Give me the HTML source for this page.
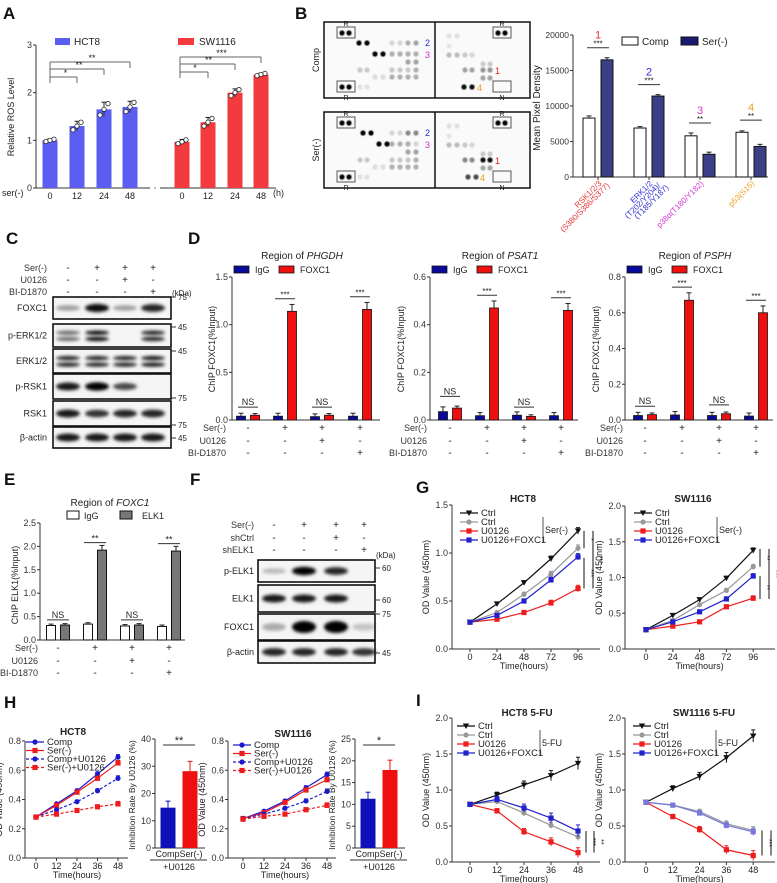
<!DOCTYPE html>
<html><head><meta charset="utf-8">
<style>
html,body{margin:0;padding:0;background:#fff;}
svg{display:block;font-family:"Liberation Sans",Arial,sans-serif;}
</style></head>
<body>
<svg id="fig" width="777" height="883" viewBox="0 0 777 883" xmlns="http://www.w3.org/2000/svg">
<defs><filter id="blur" x="-30%" y="-60%" width="160%" height="220%"><feGaussianBlur stdDeviation="1.6"/></filter>
<filter id="blur2"><feGaussianBlur stdDeviation="0.6"/></filter></defs>
</svg>
<script>
// ---------------- DATA ----------------
const aTimes = ['0','12','24','48'];
const aHCT8 = [1.0, 1.3, 1.65, 1.7];
const aHCT8Err = [0.03, 0.1, 0.15, 0.12];
const aSW = [0.97, 1.38, 2.0, 2.38];
const aSWErr = [0.05, 0.1, 0.08, 0.03];
const aTicks = [0,1,2,3];
const bCats = ['RSK','ERK','p38','p53'];
const bComp = [8300, 6900, 5800, 6300];
const bCompErr = [300, 200, 400, 200];
const bSer = [16500, 11400, 3200, 4300];
const bSerErr = [300, 200, 300, 300];
const bTicks = [0,5000,10000,15000,20000];
const dPHGDH_IgG = [0.04, 0.04, 0.035, 0.04];
const dPHGDH_FOXC1 = [0.05, 1.14, 0.05, 1.16];
const dPSAT1_IgG = [0.035, 0.018, 0.02, 0.018];
const dPSAT1_FOXC1 = [0.05, 0.47, 0.015, 0.46];
const dPSPH_IgG = [0.025, 0.028, 0.025, 0.022];
const dPSPH_FOXC1 = [0.03, 0.67, 0.035, 0.6];
const dTicks1 = [0,0.5,1.0,1.5];
const dTicks2 = [0,0.2,0.4,0.6];
const dTicks3 = [0,0.2,0.4,0.6,0.8];
const eIgG = [0.31, 0.34, 0.3, 0.29];
const eELK1 = [0.32, 1.92, 0.32, 1.9];
const eTicks = [0,0.5,1.0,1.5,2.0,2.5];
const gTimes = [0,24,48,72,96];
const gHCT8_Ctrl = [0.28,0.47,0.69,0.94,1.23];
const gHCT8_SerCtrl = [0.28,0.38,0.57,0.78,1.05];
const gHCT8_U0126 = [0.28,0.31,0.38,0.48,0.63];
const gHCT8_UFOX = [0.28,0.35,0.50,0.72,0.96];
const gSW_Ctrl = [0.27,0.47,0.69,0.99,1.38];
const gSW_SerCtrl = [0.27,0.40,0.62,0.82,1.15];
const gSW_U0126 = [0.27,0.32,0.38,0.59,0.71];
const gSW_UFOX = [0.27,0.38,0.52,0.70,1.02];
const hTimes = [0,12,24,36,48];
const hHCT8_Comp = [0.28,0.37,0.46,0.575,0.69];
const hHCT8_Ser = [0.28,0.36,0.45,0.545,0.65];
const hHCT8_CompU = [0.28,0.33,0.385,0.46,0.545];
const hHCT8_SerU = [0.28,0.30,0.325,0.35,0.37];
const hSW_Comp = [0.27,0.32,0.39,0.48,0.57];
const hSW_Ser = [0.27,0.31,0.38,0.465,0.535];
const hSW_CompU = [0.27,0.30,0.34,0.39,0.455];
const hSW_SerU = [0.265,0.285,0.30,0.33,0.36];
const hInhHCT8 = [14.8, 28.2];
const hInhSW = [11.3, 17.9];
const iTimes = [0,12,24,36,48];
const iHCT8_Ctrl = [0.80,0.93,1.07,1.20,1.37];
const iHCT8_5FU = [0.80,0.84,0.68,0.51,0.35];
const iHCT8_U0126 = [0.80,0.71,0.42,0.28,0.13];
const iHCT8_UFOX = [0.80,0.87,0.75,0.61,0.43];
const iSW_Ctrl = [0.83,1.02,1.19,1.45,1.75];
const iSW_5FU = [0.83,0.79,0.70,0.53,0.44];
const iSW_U0126 = [0.83,0.63,0.45,0.17,0.09];
const iSW_UFOX = [0.83,0.79,0.68,0.51,0.42];

// ---------------- HELPERS ----------------
const svg = document.getElementById('fig');
const NS = 'http://www.w3.org/2000/svg';
function mk(tag, attrs, name, parent){
  const el = document.createElementNS(NS, tag);
  for (const k in attrs) el.setAttribute(k, attrs[k]);
  
  
  (parent||svg).appendChild(el);
  return el;
}
function txt(x,y,s,name,o){
  o=o||{};
  const a={x:x,y:y,'font-size':o.size||9,'text-anchor':o.anchor||'start',fill:o.fill||'#222'};
  if(o.weight) a['font-weight']=o.weight;
  if(o.style) a['font-style']=o.style;
  if(o.rot!==undefined) a.transform='rotate('+o.rot+' '+x+' '+y+')';
  const t=mk('text',a,name,o.parent);
  t.textContent=s;
  return t;
}
function ln(x1,y1,x2,y2,name,o){
  o=o||{};
  const a={x1:x1,y1:y1,x2:x2,y2:y2,stroke:o.stroke||'#333','stroke-width':o.w||1};
  if(o.dash) a['stroke-dasharray']=o.dash;
  return mk('line',a,name,o.parent);
}
function rc(x,y,w,h,name,o){
  o=o||{};
  return mk('rect',{x:x,y:y,width:w,height:h,fill:o.fill||'none',stroke:o.stroke||'none','stroke-width':o.w||1},name,o.parent);
}
function lin(d0,d1,r0,r1){return v=>r0+(v-d0)*(r1-r0)/(d1-d0);}
function panelLabel(x,y,s){txt(x,y,s,'panel-label-'+s.toLowerCase(),{size:17,weight:'bold',fill:'#111'});}
function yAxis(x,y,ticks,fmt,name,fs){
  ln(x,y(ticks[ticks.length-1]),x,y(ticks[0]),name+'-line');
  ticks.forEach(t=>{ln(x-3,y(t),x,y(t),name+'-tick');txt(x-4,y(t)+3,fmt(t),name+'-tick-label',{anchor:'end',size:fs||9,fill:'#333'});});
}
function errBar(x,y1,y2,name,col){
  ln(x,y1,x,y2,name,{stroke:col||'#222'});
  ln(x-2.5,y2,x+2.5,y2,name+'-cap',{stroke:col||'#222'});
}
function marker(type,x,y,col,name){
  if(type==='tri') mk('path',{d:`M${x-3.2},${y-2.5}L${x+3.2},${y-2.5}L${x},${y+3}Z`,fill:col},name);
  else if(type==='circ') mk('circle',{cx:x,cy:y,r:2.6,fill:col},name);
  else mk('rect',{x:x-2.6,y:y-2.6,width:5.2,height:5.2,fill:col},name);
}
function series(xs,vals,xS,yS,col,mtype,name,dash,err){
  const pts=xs.map((t,i)=>xS(t)+','+yS(vals[i])).join(' ');
  const pl=mk('polyline',{points:pts,fill:'none',stroke:col,'stroke-width':1.2},name+'-line');
  if(dash) pl.setAttribute('stroke-dasharray',dash);
  xs.forEach((t,i)=>{
    const e=(err||0.02)*(0.5+i*0.3);
    if(i>0){ln(xS(t),yS(vals[i]-e),xS(t),yS(vals[i]+e),name+'-err',{stroke:col});ln(xS(t)-2,yS(vals[i]+e),xS(t)+2,yS(vals[i]+e),name+'-err-cap',{stroke:col});}
    marker(mtype,xS(t),yS(vals[i]),col,name+'-point');
  });
}
function signRows(labels,rows,xs,ys,rightX,name){
  labels.forEach((l,r)=>{
    txt(rightX,ys[r]+3,l,name+'-row-label',{anchor:'end',size:9,fill:'#333'});
    rows[r].forEach((s,i)=>txt(xs[i],ys[r]+3,s,name+'-sign',{anchor:'middle',size:10,fill:'#222'}));
  });
}
function blot(x,y,w,h,lanes,ints,name,doublet,opts){
  opts=opts||{};
  rc(x,y,w,h,name+'-box',{fill:'#f5f5f5',stroke:'#111',w:1.6});
  lanes.forEach((lx,i)=>{
    const it=ints[i]; if(it<=0) return;
    const bw=opts.bw||24;
    if(doublet){
      mk('ellipse',{cx:lx,cy:y+h*0.38,rx:bw/2,ry:2.2,fill:'#000','fill-opacity':it,filter:'url(#blur)'},name+'-band');
      mk('ellipse',{cx:lx,cy:y+h*0.65,rx:bw/2,ry:2.2,fill:'#000','fill-opacity':it,filter:'url(#blur)'},name+'-band');
    } else {
      mk('ellipse',{cx:lx,cy:y+h*(opts.cy||0.55),rx:bw/2,ry:(opts.ry||3)*(0.6+it*0.6),fill:'#000','fill-opacity':Math.min(1,it),filter:'url(#blur)'},name+'-band');
    }
  });
}

// ---------------- PANEL A ----------------
panelLabel(3,19,'A');
(function(){
  const y=lin(0,3,188,45);
  yAxis(36,y,aTicks,t=>String(t),'a-y-axis');
  txt(14,117,'Relative ROS Level','a-y-axis-title',{rot:-90,anchor:'middle',size:9});
  ln(36,188,150,188,'a-x-axis');ln(160,188,276,188,'a-x-axis');
  txt(155,193,"'",'a-axis-break',{anchor:'middle',size:8});
  const hx=[50,77,104,130], sx=[182,208,235,261];
  txt(2,196,'ser(-)','a-x-row-label',{size:9});
  txt(273,196,'(h)','a-x-unit',{size:9});
  [[hx,aHCT8,aHCT8Err,'#5b5ef0','hct8'],[sx,aSW,aSWErr,'#f23a3f','sw1116']].forEach(([xs,vals,errs,col,nm])=>{
    xs.forEach((cx,i)=>{
      rc(cx-7.5,y(vals[i]),15,188-y(vals[i]),'a-bar-'+nm+'-'+aTimes[i],{fill:col});
      errBar(cx,y(vals[i]),y(vals[i]+errs[i]),'a-error-bar');
      ln(cx,y(vals[i]),cx,y(vals[i]-errs[i]),'a-error-bar');
      [-5,0,5].forEach((dx,k)=>mk('circle',{cx:cx+dx*0.8,cy:y(vals[i]+(k-1)*errs[i]*0.8),r:2.2,fill:'#fff',stroke:'#222','stroke-width':0.8},'a-data-point'));
      txt(cx,199,aTimes[i],'a-x-tick-label',{anchor:'middle',size:9});
    });
  });
  rc(55,38,15,7,'a-legend-hct8-swatch',{fill:'#5b5ef0'});txt(74,45,'HCT8','a-legend-hct8',{size:10});
  rc(178,38,16,7,'a-legend-sw1116-swatch',{fill:'#f23a3f'});txt(199,45,'SW1116','a-legend-sw1116',{size:10});
  [[62,hx[3],'**'],[69,hx[2],'**'],[77,hx[1],'*']].forEach(([yy,x2,s])=>{ln(hx[0],yy,x2,yy,'a-sig-line',{stroke:'#666'});ln(x2,yy,x2,yy+6,'a-sig-line',{stroke:'#666'});txt((hx[0]+x2)/2+2,yy-1,s,'a-sig-stars',{anchor:'middle',size:9});});
  ln(hx[0],62,hx[0],83,'a-sig-line',{stroke:'#666'});
  [[57,sx[3],'***'],[64,sx[2],'**'],[72,sx[1],'*']].forEach(([yy,x2,s])=>{ln(sx[0]-2,yy,x2,yy,'a-sig-line',{stroke:'#666'});ln(x2,yy,x2,yy+6,'a-sig-line',{stroke:'#666'});txt((sx[0]+x2)/2,yy-1,s,'a-sig-stars',{anchor:'middle',size:9});});
  ln(sx[0]-2,57,sx[0]-2,78,'a-sig-line',{stroke:'#666'});
})();

// ---------------- PANEL B ----------------
panelLabel(295,19,'B');
(function(){
  [[22,'Comp'],[112,'Ser(-)']].forEach(([top,lab],p)=>{
    rc(324,top,206,76,'b-array-box-'+lab,{fill:'#fafafa',stroke:'#111',w:1.5});
    ln(435,top,435,top+76,'b-array-divider',{stroke:'#111',w:1.5});
    txt(319,top+38,lab,'b-array-label',{rot:-90,anchor:'middle',size:9});
    rc(337,top+5,18,11,'b-ref-box',{stroke:'#555'});rc(337,top+59,18,11,'b-ref-box',{stroke:'#555'});
    txt(346,top+4,'R','b-ref-label',{anchor:'middle',size:7});txt(346,top+78,'R','b-ref-label',{anchor:'middle',size:7});
    rc(493,top+5,18,11,'b-ref-box',{stroke:'#555'});txt(502,top+4,'R','b-ref-label',{anchor:'middle',size:7});
    rc(493,top+59,18,11,'b-neg-box',{stroke:'#555'});txt(502,top+78,'N','b-neg-label',{anchor:'middle',size:7});
    const dots=[[342,11,1],[349,11,1],[498,11,1],[505,11,1],[342,65,1],[349,65,1],
      [359+p*4,21,1],[367+p*4,21,1],[375+p*4,32,1],[383+p*4,32,1],
      [392,21,0.15],[400,21,0.15],[408,21,0.3-p*0.1+p*0.25],[416,21,0.35+p*0.1],
      [392,32,0.3],[400,32,0.3],[408,32,0.3],[416,32,0.3-p*0.15],
      [408,40,0.35],[416,40,0.35],[360,48,0.2],[367,48,0.2],[392,48,0.2],[400,48,0.2],[408,48,0.2],[416,48,0.3],
      [375,55,0.12],[383,55,0.12],[392,55,0.3],[400,55,0.3],[408,55,0.3],[416,55,0.3],[360,65,0.1],[367,65,0.1],
      [449,14,0.1],[457,14,0.1],[449,24,0.08],[449,33,0.25],[457,33,0.25],[465,33,0.2],[472,33,0.15],
      [483,42,0.2],[490,42,0.2],[465,48,0.35+p*0.1],[472,48,0.35+p*0.1],[483,48,0.4+p*0.55],[490,48,0.4+p*0.55],
      [483,56,0.35],[490,56,0.35],[464+p*4,65,0.95-p*0.25],[472+p*4,65,0.95-p*0.25]];
    dots.forEach(([dx,dy,it])=>mk('circle',{cx:dx,cy:top+dy,r:2.6,fill:'#000','fill-opacity':it,filter:'url(#blur2)'},'b-array-spot'));
    txt(425,top+24,'2','b-spot-number',{size:9,fill:'#2a2ad8'});
    txt(425,top+36,'3','b-spot-number',{size:9,fill:'#d02ad0'});
    txt(495,top+52,'1','b-spot-number',{size:9,fill:'#e02020'});
    txt(477+p*3,top+69,'4','b-spot-number',{size:9,fill:'#e8a010'});
  });
  const y=lin(0,20000,177,35);
  yAxis(573,y,bTicks,t=>String(t),'b-y-axis',8.5);
  txt(540,108,'Mean Pixel Density','b-y-axis-title',{rot:-90,anchor:'middle',size:10});
  ln(573,177,768,177,'b-x-axis');
  const cc=[598,649,700,751], cols=['#e53030','#2b2bd6','#d535d5','#f0a020'];
  const nums=['1','2','3','4'];
  bCats.forEach((c,i)=>{
    const x1=cc[i]-9,x2=cc[i]+9;
    rc(x1-6,y(bComp[i]),12,177-y(bComp[i]),'b-bar-comp-'+c,{fill:'#fff',stroke:'#111',w:1});
    errBar(x1,y(bComp[i]),y(bComp[i]+bCompErr[i]),'b-error-bar');
    rc(x2-6,y(bSer[i]),12,177-y(bSer[i]),'b-bar-ser-'+c,{fill:'#3c3f86',stroke:'#111',w:1});
    errBar(x2,y(bSer[i]),y(bSer[i]+bSerErr[i]),'b-error-bar');
    ln(cc[i],177,cc[i],180,'b-x-tick');
    const top=y(Math.max(bComp[i],bSer[i])+Math.max(bCompErr[i],bSerErr[i]))-10;
    ln(x1-2,top,x2+2,top,'b-sig-line');
    txt(cc[i],top-1,i<2?'***':'**','b-sig-stars',{anchor:'middle',size:8});
    txt(cc[i],top-9,nums[i],'b-spot-number-label',{anchor:'middle',size:11,fill:cols[i]});
  });
  const labs=[['RSK1/2/3','(S380/S386/S377)'],['ERK1/2','(T202/Y204)/','(T185/Y187)'],['p38α(T180/Y182)'],['p53(S15)']];
  labs.forEach((L,i)=>L.forEach((s,k)=>txt(cc[i]+4+k*8,184+k*2,s,'b-x-category-label',{anchor:'end',size:8,fill:cols[i],rot:-45})));
  rc(622,37,16,8,'b-legend-comp-swatch',{fill:'#fff',stroke:'#111'});txt(642,45,'Comp','b-legend-comp',{size:10});
  rc(681,37,17,8,'b-legend-ser-swatch',{fill:'#1a1a70',stroke:'#111'});txt(702,45,'Ser(-)','b-legend-ser',{size:10});
})();

// ---------------- PANEL C ----------------
panelLabel(6,244,'C');
(function(){
  const lanes=[68,97,125,153];
  signRows(['Ser(-)','U0126','BI-D1870'],[['-','+','+','+'],['-','-','+','-'],['-','-','-','+']],lanes,[268,280,292],47,'c');
  txt(172,296,'(kDa)','c-kda-label',{size:8});
  const rows=[['FOXC1',297,22,[0.35,0.95,0.35,0.85],false,['75',0]],
              ['p-ERK1/2',324,23,[0.55,0.95,0,0.85],true,['45',3]],
              ['ERK1/2',349,24,[0.85,0.85,0.85,0.9],true,['45',2]],
              ['p-RSK1',374,25,[0.9,1,0.7,0],false,['75',24]],
              ['RSK1',401,25,[0.9,0.8,0.85,0.85],false,['75',24]],
              ['β-actin',427,21,[0.9,0.9,0.9,0.9],false,['45',11]]];
  rows.forEach(([lab,y,h,ints,dbl,mw])=>{
    blot(53,y,118,h,lanes,ints,'c-blot-'+lab.toLowerCase(),dbl,{cy:0.5,ry:3.5});
    txt(47,y+h/2+3,lab,'c-blot-label',{anchor:'end',size:9});
    ln(171,y+mw[1],176,y+mw[1],'c-mw-tick');txt(178,y+mw[1]+3,mw[0],'c-mw-label',{size:8});
  });
})();

// ---------------- PANEL D ----------------
panelLabel(188,244,'D');
function chipChart(ax,gc,ymax,ticks,igg,fox,title,gene,name,colA,colB,legA,legB,stars,ns){
  const y=lin(0,ymax,420,277);
  yAxis(ax,y,ticks,t=>t.toFixed(1),name+'-y-axis');
  ln(ax,420,ax+148,420,name+'-x-axis');
  const tg=txt(ax+70,259,title+' ',name+'-title',{anchor:'middle',size:10});
  const ts=document.createElementNS(NS,'tspan');ts.setAttribute('font-style','italic');ts.textContent=gene;tg.appendChild(ts);
  rc(ax+2,266,15,7,name+'-legend-swatch-a',{fill:colA,stroke:'#111',w:0.8});txt(ax+23,273,legA,name+'-legend-a',{size:9});
  rc(ax+47,266,15,7,name+'-legend-swatch-b',{fill:colB,stroke:'#111',w:0.8});txt(ax+68,273,legB,name+'-legend-b',{size:9});
  gc.forEach((c,i)=>{
    const xa=c-7,xb=c+7;
    rc(xa-4.5,y(igg[i]),9,420-y(igg[i]),name+'-bar-a',{fill:colA,stroke:'#111',w:0.8});
    errBar(xa,y(igg[i]),y(igg[i]*1.4+ymax*0.01),name+'-error-bar');
    rc(xb-4.5,y(fox[i]),9,420-y(fox[i]),name+'-bar-b',{fill:colB,stroke:'#111',w:0.8});
    errBar(xb,y(fox[i]),y(fox[i]*1.05+ymax*0.01),name+'-error-bar');
    if(ns[i]){const sy=y(Math.max(igg[i],fox[i])*1.5+ymax*0.04);ln(xa-3,sy,xb+3,sy,name+'-sig-line');txt(c,sy-2,'NS',name+'-ns-label',{anchor:'middle',size:9});}
    if(stars[i]){const sy=y(fox[i]*1.05+ymax*0.05);ln(xa-3,sy,xb+3,sy,name+'-sig-line');txt(c,sy-1,stars[i],name+'-sig-stars',{anchor:'middle',size:8});}
  });
  return y;
}
(function(){
  const g1=[248,285,322,360], g2=[450,487,524,561], g3=[645,682,719,756];
  const tA='#0a0a9a', tB='#ee0f0f';
  chipChart(232,g1,1.5,dTicks1,dPHGDH_IgG,dPHGDH_FOXC1,'Region of','PHGDH','d-phgdh',tA,tB,'IgG','FOXC1',['','***','','***'],[1,0,1,0]);
  txt(215,349,'ChIP FOXC1(%Input)','d-phgdh-y-title',{rot:-90,anchor:'middle',size:9});
  chipChart(430,g2,0.6,dTicks2,dPSAT1_IgG,dPSAT1_FOXC1,'Region of','PSAT1','d-psat1',tA,tB,'IgG','FOXC1',['','***','','***'],[1,0,1,0]);
  txt(404,349,'ChIP FOXC1(%Input)','d-psat1-y-title',{rot:-90,anchor:'middle',size:9});
  chipChart(625,g3,0.8,dTicks3,dPSPH_IgG,dPSPH_FOXC1,'Region of','PSPH','d-psph',tA,tB,'IgG','FOXC1',['','***','','***'],[1,0,1,0]);
  txt(599,349,'ChIP FOXC1(%Input)','d-psph-y-title',{rot:-90,anchor:'middle',size:9});
  const rows=[['-','+','+','+'],['-','-','+','-'],['-','-','-','+']];
  signRows(['Ser(-)','U0126','BI-D1870'],rows,g1,[428,441,453],226,'d-phgdh');
  signRows(['Ser(-)','U0126','BI-D1870'],rows,g2,[428,441,453],427,'d-psat1');
  signRows(['Ser(-)','U0126','BI-D1870'],rows,g3,[428,441,453],623,'d-psph');
})();

// ---------------- PANEL E ----------------
panelLabel(4,485,'E');
(function(){
  const y=lin(0,2.5,640,523);
  yAxis(40,y,eTicks,t=>t.toFixed(1),'e-y-axis');
  ln(40,640,185,640,'e-x-axis');
  txt(18,585,'ChIP ELK1(%Input)','e-y-axis-title',{rot:-90,anchor:'middle',size:9});
  const tg=txt(110,506,'Region of ','e-title',{anchor:'middle',size:10});
  const ts=document.createElementNS(NS,'tspan');ts.setAttribute('font-style','italic');ts.textContent='FOXC1';tg.appendChild(ts);
  rc(67,511,12,8,'e-legend-igg-swatch',{fill:'#fff',stroke:'#111'});txt(84,519,'IgG','e-legend-igg',{size:9});
  rc(120,511,12,8,'e-legend-elk1-swatch',{fill:'#777',stroke:'#111'});txt(142,519,'ELK1','e-legend-elk1',{size:9});
  const gc=[58,95,132,169];
  gc.forEach((c,i)=>{
    const xa=c-7,xb=c+7;
    rc(xa-4.5,y(eIgG[i]),9,640-y(eIgG[i]),'e-bar-igg',{fill:'#fff',stroke:'#111'});
    errBar(xa,y(eIgG[i]),y(eIgG[i]+0.03),'e-error-bar');
    rc(xb-4.5,y(eELK1[i]),9,640-y(eELK1[i]),'e-bar-elk1',{fill:'#777',stroke:'#111'});
    errBar(xb,y(eELK1[i]),y(eELK1[i]+(eELK1[i]>1?0.1:0.03)),'e-error-bar');
    if(eELK1[i]<1){const sy=y(0.43);ln(xa-4,sy,xb+4,sy,'e-sig-line');txt(c,sy-2,'NS','e-ns-label',{anchor:'middle',size:9});}
    else {const sy=y(eELK1[i]+0.16);ln(xa-4,sy,xb+4,sy,'e-sig-line');txt(c,sy-1,'**','e-sig-stars',{anchor:'middle',size:9});}
  });
  signRows(['Ser(-)','U0126','BI-D1870'],[['-','+','+','+'],['-','-','+','-'],['-','-','-','+']],gc,[648,661,673],38,'e');
})();

// ---------------- PANEL F ----------------
panelLabel(190,485,'F');
(function(){
  const lanes=[274,304,336,364];
  signRows(['Ser(-)','shCtrl','shELK1'],[['-','+','+','+'],['-','-','+','-'],['-','-','-','+']],lanes,[525,538,550],254,'f');
  txt(376,558,'(kDa)','f-kda-label',{size:8});
  const rows=[['p-ELK1',560,22,[0.25,1,0.85,0],['60',8]],
              ['ELK1',585,27,[0.9,0.9,0.9,0],['60',15]],
              ['FOXC1',614,26,[0.3,1,1,0.2],['75',0]],
              ['β-actin',641,22,[0.85,0.85,0.85,0.8],['45',12]]];
  rows.forEach(([lab,y,h,ints,mw])=>{
    blot(258,y,117,h,lanes,ints,'f-blot-'+lab.toLowerCase(),false,{cy:0.5,ry:lab==='FOXC1'?5:3.5});
    txt(254,y+h/2+3,lab,'f-blot-label',{anchor:'end',size:9});
    ln(375,y+mw[1],380,y+mw[1],'f-mw-tick');txt(382,y+mw[1]+3,mw[0],'f-mw-label',{size:8});
  });
})();

// ---------------- LINE CHART HELPERS ----------------
function lineAxes(ax,x0,dx,times,y,ticks,yBottom,yTop,name,xEnd){
  yAxis(ax,y,ticks,t=>t.toFixed(1),name+'-y-axis');
  const xS=t=>x0+(t/times[1])*dx;
  ln(ax,yBottom,xEnd,yBottom,name+'-x-axis');
  times.forEach(t=>{ln(xS(t),yBottom,xS(t),yBottom+3,name+'-x-tick');txt(xS(t),yBottom+11,String(t),name+'-x-tick-label',{anchor:'middle',size:9});});
  txt((x0+xS(times[times.length-1]))/2,yBottom+20,'Time(hours)',name+'-x-axis-title',{anchor:'middle',size:9});
  txt(ax-23,(yBottom+yTop)/2,'OD Value (450nm)',name+'-y-axis-title',{rot:-90,anchor:'middle',size:9});
  return xS;
}
function legend4(x,y,step,items,name,bracket){
  items.forEach(([lab,col,m,dash],i)=>{
    const l=ln(x,y+i*step,x+18,y+i*step,name+'-legend-line',{stroke:col,w:1.2});
    if(dash) l.setAttribute('stroke-dasharray',dash);
    marker(m,x+9,y+i*step,col,name+'-legend-marker');
    txt(x+21,y+i*step+3,lab,name+'-legend-label',{size:9.5,fill:'#222'});
  });
  if(bracket){ln(x+83,y+step-5,x+83,y+3*step+3,name+'-legend-bracket',{stroke:'#555'});txt(x+85,y+2*step+2,bracket,name+'-legend-bracket-label',{size:9});}
}
function sigVert(x,y1,y2,s,name){ln(x,y1,x,y2,name+'-sig-line',{stroke:'#111'});txt(x+5,(y1+y2)/2,s,name+'-sig-stars',{rot:90,anchor:'middle',size:7});}

// ---------------- PANEL G ----------------
panelLabel(416,493,'G');
(function(){
  const y1=lin(0,1.5,649,505);
  const xS1=lineAxes(452,470,27,gTimes,y1,[0,0.5,1.0,1.5],649,505,'g-hct8',600);
  txt(523,502,'HCT8','g-hct8-title',{anchor:'middle',size:10,weight:'bold'});
  series(gTimes,gHCT8_Ctrl,xS1,y1,'#111','tri','g-hct8-ctrl');
  series(gTimes,gHCT8_SerCtrl,xS1,y1,'#999','circ','g-hct8-ser-ctrl');
  series(gTimes,gHCT8_U0126,xS1,y1,'#ee1c1c','sq','g-hct8-u0126');
  series(gTimes,gHCT8_UFOX,xS1,y1,'#2222cc','sq','g-hct8-u0126-foxc1');
  legend4(460,513,9,[['Ctrl','#111','tri'],['Ctrl','#999','circ'],['U0126','#ee1c1c','sq'],['U0126+FOXC1','#2222cc','sq']],'g-hct8','Ser(-)');
  sigVert(584,y1(1.23),y1(1.05),'*','g-hct8');sigVert(584,y1(0.95),y1(0.63),'***','g-hct8');sigVert(593,y1(1.23),y1(0.63),'***','g-hct8');
  const y2=lin(0,2.0,649,506);
  const xS2=lineAxes(625,646,26.8,gTimes,y2,[0,0.5,1.0,1.5,2.0],649,506,'g-sw1116',775);
  txt(693,502,'SW1116','g-sw1116-title',{anchor:'middle',size:10,weight:'bold'});
  series(gTimes,gSW_Ctrl,xS2,y2,'#111','tri','g-sw1116-ctrl');
  series(gTimes,gSW_SerCtrl,xS2,y2,'#999','circ','g-sw1116-ser-ctrl');
  series(gTimes,gSW_U0126,xS2,y2,'#ee1c1c','sq','g-sw1116-u0126');
  series(gTimes,gSW_UFOX,xS2,y2,'#2222cc','sq','g-sw1116-u0126-foxc1');
  legend4(634,513,9,[['Ctrl','#111','tri'],['Ctrl','#999','circ'],['U0126','#ee1c1c','sq'],['U0126+FOXC1','#2222cc','sq']],'g-sw1116','Ser(-)');
  sigVert(760,y2(1.4),y2(1.15),'**','g-sw1116');sigVert(760,y2(1.02),y2(0.7),'**','g-sw1116');sigVert(769,y2(1.4),y2(0.7),'***','g-sw1116');
})();

// ---------------- PANEL H ----------------
panelLabel(4,708,'H');
(function(){
  const y1=lin(0,0.8,858,741);
  const xS1=lineAxes(25,36,20.5,hTimes,y1,[0,0.2,0.4,0.6,0.8],858,741,'h-hct8',128);
  txt(73,735,'HCT8','h-hct8-title',{anchor:'middle',size:10,weight:'bold'});
  series(hTimes,hHCT8_Comp,xS1,y1,'#1a1acc','circ','h-hct8-comp',null,0.01);
  series(hTimes,hHCT8_Ser,xS1,y1,'#ee1c1c','sq','h-hct8-ser',null,0.01);
  series(hTimes,hHCT8_CompU,xS1,y1,'#1a1acc','circ','h-hct8-comp-u0126','3,2',0.01);
  series(hTimes,hHCT8_SerU,xS1,y1,'#ee1c1c','sq','h-hct8-ser-u0126','3,2',0.01);
  legend4(26,742,8.5,[['Comp','#1a1acc','circ'],['Ser(-)','#ee1c1c','sq'],['Comp+U0126','#1a1acc','circ','3,2'],['Ser(-)+U0126','#ee1c1c','sq','3,2']],'h-hct8');
  const y2=lin(0,0.8,858,741);
  const xS2=lineAxes(228,243,21,hTimes,y2,[0,0.2,0.4,0.6,0.8],858,741,'h-sw1116',336);
  txt(293,737,'SW1116','h-sw1116-title',{anchor:'middle',size:10,weight:'bold'});
  series(hTimes,hSW_Comp,xS2,y2,'#1a1acc','circ','h-sw1116-comp',null,0.01);
  series(hTimes,hSW_Ser,xS2,y2,'#ee1c1c','sq','h-sw1116-ser',null,0.01);
  series(hTimes,hSW_CompU,xS2,y2,'#1a1acc','circ','h-sw1116-comp-u0126','3,2',0.01);
  series(hTimes,hSW_SerU,xS2,y2,'#ee1c1c','sq','h-sw1116-ser-u0126','3,2',0.01);
  legend4(233,745,8.5,[['Comp','#1a1acc','circ'],['Ser(-)','#ee1c1c','sq'],['Comp+U0126','#1a1acc','circ','3,2'],['Ser(-)+U0126','#ee1c1c','sq','3,2']],'h-sw1116');
  function inh(ax,max,ticks,vals,stars,name){
    const y=lin(0,max,848,739);
    yAxis(ax,y,ticks,t=>String(t),name+'-y-axis');
    txt(ax-20,795,'Inhibition Rate By U0126 (%)','inh-y-title',{rot:-90,anchor:'middle',size:8.5});
    ln(ax,848,ax+50,848,name+'-x-axis');
    const cx=[ax+13,ax+35], cols=['#1010b8','#ee1010'];
    vals.forEach((v,i)=>{rc(cx[i]-7.5,y(v),15,848-y(v),name+'-bar-'+(i?'ser':'comp'),{fill:cols[i]});errBar(cx[i],y(v),y(v+max*0.06+(i?max*0.03:0)),name+'-error-bar',cols[i]);});
    ln(cx[0]-5,745,cx[1]+5,745,name+'-sig-line');txt((cx[0]+cx[1])/2,744,stars,name+'-sig-stars',{anchor:'middle',size:11});
    txt(ax+24,857,'CompSer(-)',name+'-x-label',{anchor:'middle',size:9});
    ln(ax-5,860,ax+52,860,name+'-x-bracket');
    txt(ax+24,870,'+U0126',name+'-x-sub-label',{anchor:'middle',size:9});
  }
  inh(155,40,[0,10,20,30,40],hInhHCT8,'**','h-inh-hct8');
  inh(355,25,[0,5,10,15,20,25],hInhSW,'*','h-inh-sw1116');
})();

// ---------------- PANEL I ----------------
panelLabel(416,706,'I');
(function(){
  const y=lin(0,2.0,862,718);
  const xS1=lineAxes(452,470,27,iTimes,y,[0,0.5,1.0,1.5,2.0],862,718,'i-hct8',600);
  txt(527,716,'HCT8 5-FU','i-hct8-title',{anchor:'middle',size:10,weight:'bold'});
  series(iTimes,iHCT8_Ctrl,xS1,y,'#111','tri','i-hct8-ctrl',null,0.05);
  series(iTimes,iHCT8_5FU,xS1,y,'#999','circ','i-hct8-5fu',null,0.03);
  series(iTimes,iHCT8_U0126,xS1,y,'#ee1c1c','sq','i-hct8-u0126',null,0.04);
  series(iTimes,iHCT8_UFOX,xS1,y,'#2222cc','sq','i-hct8-u0126-foxc1',null,0.05);
  legend4(457,726,9,[['Ctrl','#111','tri'],['Ctrl','#999','circ'],['U0126','#ee1c1c','sq'],['U0126+FOXC1','#2222cc','sq']],'i-hct8','5-FU');
  sigVert(586,y(0.43),y(0.13),'***','i-hct8');sigVert(594,y(0.43),y(0.13),'**','i-hct8');
  const xS2=lineAxes(625,646,26.8,iTimes,y,[0,0.5,1.0,1.5,2.0],862,718,'i-sw1116',775);
  txt(704,716,'SW1116 5-FU','i-sw1116-title',{anchor:'middle',size:10,weight:'bold'});
  series(iTimes,iSW_Ctrl,xS2,y,'#111','tri','i-sw1116-ctrl',null,0.05);
  series(iTimes,iSW_5FU,xS2,y,'#999','circ','i-sw1116-5fu',null,0.03);
  series(iTimes,iSW_U0126,xS2,y,'#ee1c1c','sq','i-sw1116-u0126',null,0.04);
  series(iTimes,iSW_UFOX,xS2,y,'#7777dd','sq','i-sw1116-u0126-foxc1',null,0.03);
  legend4(633,726,9,[['Ctrl','#111','tri'],['Ctrl','#999','circ'],['U0126','#ee1c1c','sq'],['U0126+FOXC1','#2222cc','sq']],'i-sw1116','5-FU');
  sigVert(762,y(0.44),y(0.09),'***','i-sw1116');sigVert(771,y(0.44),y(0.09),'***','i-sw1116');
})();
</script>
</body></html>
